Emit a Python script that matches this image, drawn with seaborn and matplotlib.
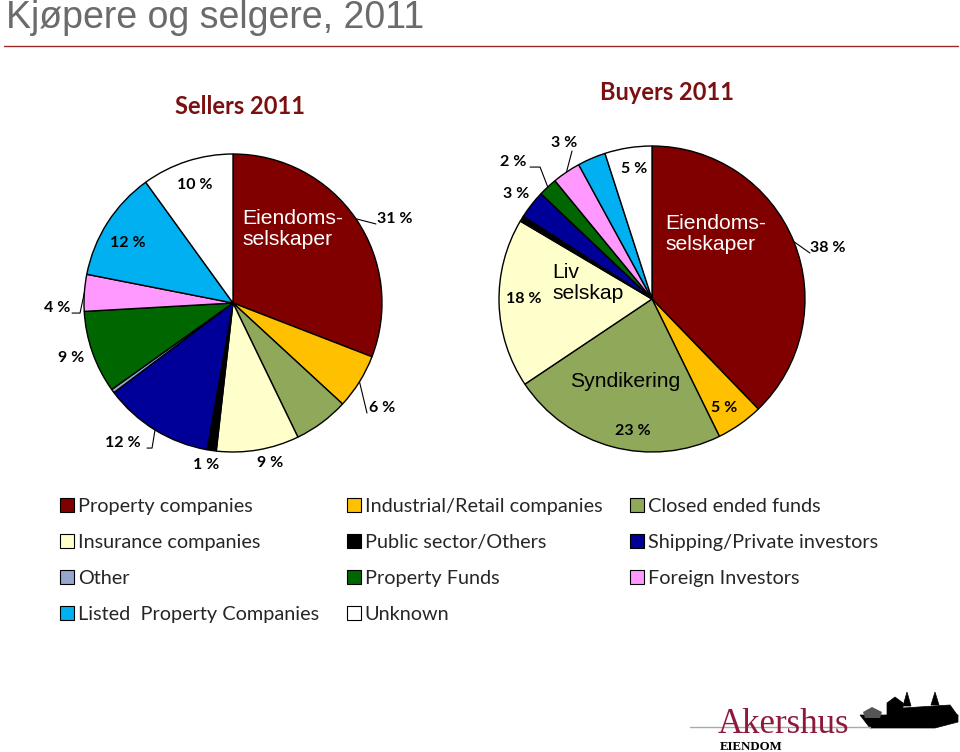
import matplotlib
matplotlib.use("Agg")
import matplotlib.pyplot as plt
from matplotlib.patches import Patch, Polygon
import numpy as np
import seaborn as sns

# %% data

categories = [
    "Property companies", "Industrial/Retail companies", "Closed ended funds",
    "Insurance companies", "Public sector/Others", "Shipping/Private investors",
    "Other", "Property Funds", "Foreign Investors", "Listed  Property Companies",
    "Unknown",
]
colors = [
    "#800000", "#FFC000", "#8FA85A", "#FFFFCC", "#000000", "#000099",
    "#95A7CF", "#006600", "#FF99FF", "#00B0F0", "#FFFFFF",
]
sellers = [31, 6, 6, 9, 1, 12, 0.4, 9, 4, 12, 10]
buyers = [38, 5, 23, 18, 0.6, 3, 0.0, 2, 3, 3, 5]

# %% layout (pixels, y up) -- label spots in units of radius

W, H = 960, 752
sellers_layout = dict(
    center=(233, H - 303), radius=149, title="Sellers 2011", title_xy=(240, H - 107),
    labels={0: (1.087, 0.564), 1: (1.0, -0.705), 3: (0.248, -1.074), 4: (-0.181, -1.087),
            5: (-0.738, -0.94), 7: (-1.087, -0.369), 8: (-1.181, -0.034),
            9: (-0.705, 0.403), 10: (-0.255, 0.792)},
    leaders={0: [(-19, -5)], 1: [(-15, -5)], 8: [(15, -5), (23, -5)], 5: [(24, -5), (29, -5)]},
    names=[("Eiendoms-\nselskaper", (0.06, 0.497), "white", "left")],
)
buyers_layout = dict(
    center=(652, H - 299), radius=153, title="Buyers 2011", title_xy=(667, H - 93),
    labels={0: (1.150, 0.333), 1: (0.471, -0.712), 2: (-0.124, -0.863), 3: (-0.837, 0.0),
            5: (-0.889, 0.686), 7: (-0.908, 0.895), 8: (-0.575, 1.02), 10: (-0.118, 0.85)},
    leaders={0: [(-18, -5)], 7: [(17, -5), (27, -5)], 8: [(8, -8)]},
    names=[("Eiendoms-\nselskaper", (0.085, 0.425), "white", "left"),
           ("Liv\nselskap", (-0.654, 0.105), "black", "left"),
           ("Syndikering", (-0.176, -0.542), "black", "center")],
)

sns.set_theme(style="white")
plt.rcParams["font.family"] = ["Lato", "DejaVu Sans"]

fig = plt.figure(figsize=(9.6, 7.52), dpi=100)
ax = fig.add_axes([0, 0, 1, 1])


def draw_pie(values, lay):
    cx, cy = lay["center"]
    r = lay["radius"]
    wedges, _ = ax.pie(
        values, colors=colors, startangle=90, counterclock=False,
        center=(cx, cy), radius=r,
        wedgeprops=dict(edgecolor="black", linewidth=1),
    )
    for i, (fx, fy) in lay["labels"].items():
        lx, ly = cx + fx * r, cy + fy * r
        ax.text(lx, ly, f"{values[i]:.0f} %", ha="center", va="center",
                fontsize=11.5, fontweight="bold", color="black")
        if i in lay["leaders"]:
            w = wedges[i]
            mid = np.deg2rad((w.theta1 + w.theta2) / 2)
            pts = [(cx + r * np.cos(mid), cy + r * np.sin(mid))]
            pts += [(lx + dx, ly + dy) for dx, dy in lay["leaders"][i][::-1]]
            xs, ys = zip(*pts)
            ax.plot(xs, ys, color="black", lw=0.8)
    for txt, (fx, fy), col, ha in lay["names"]:
        ax.text(cx + fx * r, cy + fy * r, txt, ha=ha, va="center", color=col,
                fontsize=15.2, family=["Liberation Sans", "DejaVu Sans"], linespacing=1.15)
    ax.text(*lay["title_xy"], lay["title"], ha="center", va="center", fontsize=17,
            fontweight="bold", color="#7B1010")
    return wedges


draw_pie(sellers, sellers_layout)
draw_pie(buyers, buyers_layout)

# page title and rule
ax.text(6, H - 18, "Kjøpere og selgere, 2011", ha="left", va="center", fontsize=27,
        color="#6B6B6B", family=["Liberation Sans", "DejaVu Sans"])
ax.plot([4, 958], [H - 46, H - 46], color="#9B2B2B", lw=1)

# legend (column-major order so rows match the original)
order = [0, 3, 6, 9, 1, 4, 7, 10, 2, 5, 8]
handles = [Patch(facecolor=colors[i], edgecolor="black", linewidth=0.8, label=categories[i])
           for i in order]
fig.legend(handles=handles, ncol=3, loc="upper left", bbox_to_anchor=(50 / W, 1 - 488 / H),
           frameon=False, fontsize=14.3, handlelength=0.7, handleheight=0.7,
           handletextpad=0.2, columnspacing=1.4, labelspacing=0.96, borderpad=0)

# logo
ax.plot([690, 870], [H - 727, H - 727], color="#AAAAAA", lw=1)
ax.text(718, H - 733, "Akershus", ha="left", va="baseline", fontsize=25,
        family=["Liberation Serif", "DejaVu Serif"], color="#8B1A3C")
ax.text(720, H - 750, "EIENDOM", ha="left", va="baseline", fontsize=9.3, fontweight="bold",
        family=["Liberation Serif", "DejaVu Serif"], color="black")
castle = [
    [(860, H - 715), (958, H - 715), (958, H - 722), (935, H - 728), (870, H - 728)],
    [(887, H - 703), (895, H - 697), (903, H - 703), (903, H - 716), (887, H - 716)],
    [(903, H - 708), (950, H - 705), (958, H - 716), (903, H - 716)],
    [(903, H - 706), (907, H - 692), (911, H - 706)],
    [(931, H - 705), (935, H - 692), (939, H - 705)],
]
for poly in castle:
    ax.add_patch(Polygon(poly, closed=True, facecolor="black", edgecolor="black", lw=0.5))
ax.add_patch(Polygon([(863, H - 712), (872, H - 707), (882, H - 712), (880, H - 718), (865, H - 718)],
                     closed=True, facecolor="#555555", edgecolor="none"))

ax.set_xlim(0, W)
ax.set_ylim(0, H)
ax.set_aspect("auto")
ax.axis("off")

fig.savefig("out.png", dpi=100, facecolor="white")
